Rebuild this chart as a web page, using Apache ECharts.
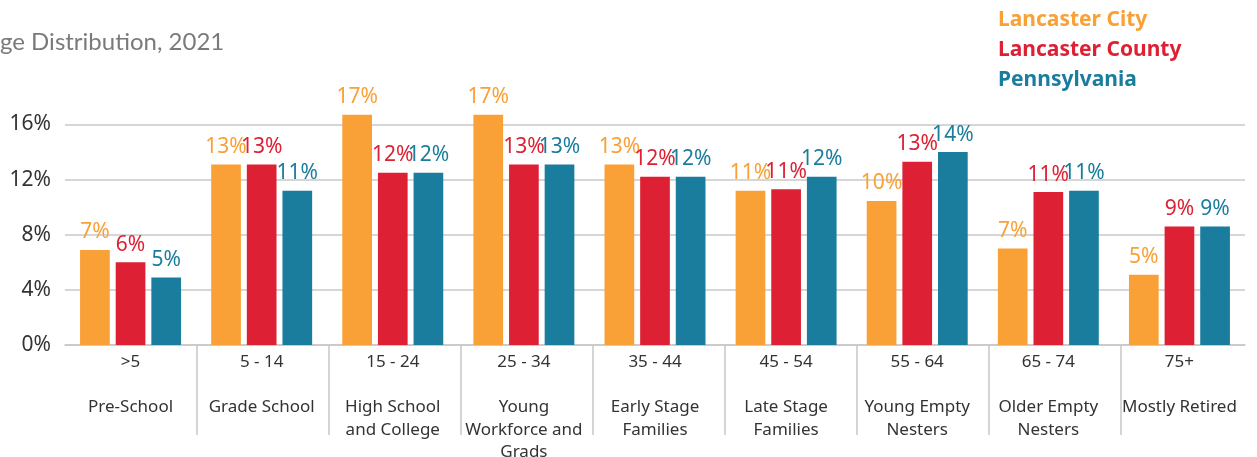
<!DOCTYPE html>
<html>
<head>
<meta charset="utf-8">
<script src="https://cdn.jsdelivr.net/npm/echarts@6/dist/echarts.min.js"></script>
<style>
  html, body { margin: 0; padding: 0; background: #fff; }
  #chart { width: 1257px; height: 457px; }
</style>
</head>
<body>
<div id="chart"></div>
<script>
const ageRanges = ['>5', '5 - 14', '15 - 24', '25 - 34', '35 - 44', '45 - 54', '55 - 64', '65 - 74', '75+'];
const groupNames = ['Pre-School', 'Grade School', 'High School\nand College', 'Young\nWorkforce and\nGrads', 'Early Stage\nFamilies', 'Late Stage\nFamilies', 'Young Empty\nNesters', 'Older Empty\nNesters', 'Mostly Retired'];
const lancasterCity   = [6.9, 13.1, 16.7, 16.7, 13.1, 11.2, 10.45, 7.0, 5.1];
const lancasterCounty = [6.0, 13.1, 12.49, 13.1, 12.2, 11.3, 13.3, 11.1, 8.6];
const pennsylvania    = [4.9, 11.2, 12.49, 13.1, 12.2, 12.2, 14.0, 11.2, 8.6];
const yTicks = [0, 4, 8, 12, 16];
const seriesNames = ['Lancaster City', 'Lancaster County', 'Pennsylvania'];
const seriesColors = ['#F9A036', '#DD2033', '#1A7D9D'];

const chart = echarts.init(document.getElementById('chart'), null, { renderer: 'canvas' });
const seriesData = [lancasterCity, lancasterCounty, pennsylvania];
// separator positions: one point per category boundary
const boundaries = ageRanges.concat(['']).map((_, i) => String(i));

chart.setOption({
  animation: false,
  textStyle: { fontFamily: 'Noto Sans' },
  graphic: [{
    type: 'text',
    left: 0,
    top: 30,
    style: {
      text: 'ge Distribution, 2021',
      font: '24px Lato',
      fill: '#7a7a7a'
    }
  }],
  legend: {
    orient: 'vertical',
    left: 988,
    top: 5,
    itemWidth: 0,
    itemHeight: 20,
    itemGap: 9,
    icon: 'rect',
    selectedMode: false,
    data: seriesNames.map((n, i) => ({
      name: n,
      itemStyle: { opacity: 0 },
      textStyle: { color: seriesColors[i], fontSize: 21, fontWeight: 'bold', fontFamily: 'Noto Sans' }
    }))
  },
  grid: [
    { left: 65, right: 12, top: 124.5, bottom: 112, containLabel: false, outerBoundsMode: 'none' },
    { left: 65, right: 4, top: 124.5, bottom: 112, containLabel: false, outerBoundsMode: 'none' }
  ],
  xAxis: [{
    type: 'category',
    gridIndex: 0,
    data: ageRanges,
    axisLine: { show: true, lineStyle: { color: '#c8c8c8', width: 1.5 } },
    axisTick: { show: false },
    axisLabel: {
      interval: 0,
      margin: 6,
      color: '#333',
      fontSize: 17,
      lineHeight: 22.5,
      fontFamily: 'Noto Sans',
      formatter: (v, i) => v + '\n\n' + groupNames[i]
    }
  }, {
    type: 'category',
    gridIndex: 1,
    data: boundaries,
    boundaryGap: false,
    axisLine: { show: false },
    axisLabel: { show: false },
    axisTick: {
      show: true,
      length: 90,
      interval: (i) => i > 0 && i < boundaries.length - 1,
      lineStyle: { color: '#c8c8c8', width: 1.5 }
    }
  }],
  yAxis: [{
    type: 'value',
    gridIndex: 0,
    min: 0,
    max: yTicks[yTicks.length - 1],
    interval: 4,
    axisLine: { show: false },
    axisTick: { show: false },
    splitLine: { lineStyle: { color: '#c8c8c8', width: 1.5 } },
    axisLabel: {
      color: '#333',
      fontSize: 21,
      margin: 14,
      fontFamily: 'Noto Sans',
      formatter: v => v + '%'
    }
  }, {
    type: 'value',
    gridIndex: 1,
    show: false,
    splitLine: { show: false }
  }],
  series: seriesNames.map((n, i) => ({
    name: n,
    type: 'bar',
    xAxisIndex: 0,
    yAxisIndex: 0,
    data: seriesData[i],
    clip: false,
    barGap: '20%',
    barCategoryGap: '23%',
    itemStyle: { color: seriesColors[i] },
    label: {
      show: true,
      position: 'top',
      distance: 7,
      color: seriesColors[i],
      fontSize: 21,
      fontFamily: 'Noto Sans',
      formatter: p => Math.round(p.value) + '%'
    }
  }))
});
</script>
</body>
</html>
